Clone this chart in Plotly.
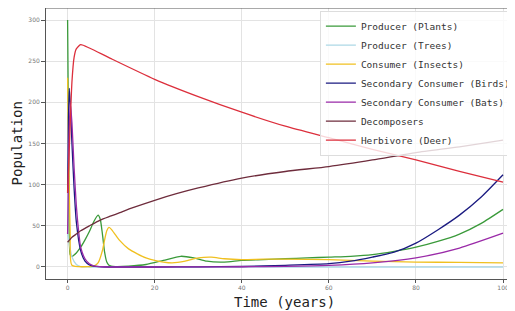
import plotly.graph_objects as go

# ---- data ----
t_plants = [0, 0.3, 0.6, 1, 2, 3, 4, 5, 6, 7, 7.5, 8, 8.5, 9, 9.5, 10, 11, 14, 18, 22, 26, 29, 32, 36, 40, 45, 50, 55, 60, 65, 70, 75, 80, 85, 90, 95, 100]
v_plants = [300, 100, 15, 13, 17, 24, 33, 43, 55, 63, 58, 40, 18, 6, 2, 1, 0.5, 1, 3, 8, 13, 11, 7, 6, 8, 9, 10, 11, 12, 13, 15, 19, 24, 31, 40, 53, 70]

t_trees = [0, 0.5, 1, 2, 3, 5, 20, 40, 60, 80, 100]
v_trees = [40, 25, 12, 3, 0.5, 0, 0, 0, 0, 0, 0]

t_insects = [0, 0.3, 0.6, 1, 5, 6, 7, 8, 8.5, 9, 9.5, 10, 11, 12, 14, 16, 18, 20, 22, 24, 27, 30, 33, 36, 40, 45, 50, 60, 70, 80, 90, 100]
v_insects = [230, 120, 40, 2, 0.5, 1, 5, 20, 33, 44, 48, 46, 39, 32, 22, 16, 11, 8, 6, 5, 7, 11, 12, 10, 9, 9.5, 9.5, 9, 7, 6, 5.5, 5]

t_birds = [0, 0.2, 0.4, 0.7, 1, 1.5, 2, 3, 4, 5, 6, 8, 10, 20, 30, 40, 50, 60, 65, 70, 75, 80, 85, 90, 95, 100]
v_birds = [90, 180, 217, 190, 150, 95, 55, 20, 7, 2.5, 1, 0.2, 0, 0, 0.2, 0.6, 2, 4, 7, 12, 18, 29, 45, 63, 85, 112]

t_bats = [0, 0.3, 0.6, 1, 1.5, 2, 2.5, 3, 4, 5, 6, 8, 10, 20, 30, 40, 50, 60, 70, 80, 90, 100]
v_bats = [40, 150, 200, 175, 120, 75, 45, 24, 10, 4, 1.5, 0.3, 0, 0, 0.1, 0.3, 0.8, 2, 5, 11, 23, 41]

t_decomp = [0, 1, 2, 3, 5, 7.5, 10, 12, 15, 20, 25, 30, 40, 50, 60, 70, 80, 90, 100]
v_decomp = [30, 36, 40, 44, 50, 57, 62, 66, 72, 81, 89, 96, 108, 116, 122, 130, 139, 146, 154]

t_deer = [0, 0.5, 1, 1.5, 2, 3, 5, 10, 20, 30, 40, 50, 60, 70, 80, 90, 100]
v_deer = [90, 160, 225, 255, 265, 270, 266, 253, 228, 207, 188, 171, 157, 143, 130, 116, 103]

x_ticks = [0, 20, 40, 60, 80, 100]
y_ticks = [0, 50, 100, 150, 200, 250, 300]

series = [
    ("Producer (Plants)", t_plants, v_plants, "#3a9a3a"),
    ("Producer (Trees)", t_trees, v_trees, "#add8e6"),
    ("Consumer (Insects)", t_insects, v_insects, "#f0c020"),
    ("Secondary Consumer (Birds)", t_birds, v_birds, "#1a1a80"),
    ("Secondary Consumer (Bats)", t_bats, v_bats, "#9a2aa8"),
    ("Decomposers", t_decomp, v_decomp, "#6e2c3c"),
    ("Herbivore (Deer)", t_deer, v_deer, "#dc2f3c"),
]

fig = go.Figure()
for name, t, v, c in series:
    fig.add_trace(go.Scatter(x=t, y=v, mode="lines", name=name,
                             line=dict(color=c, width=1.3, shape="spline", smoothing=0.6)))

mono = "DejaVu Sans Mono"
# the page body has an 8px margin, so the figure is sized to the visible area
fig.update_layout(
    width=507, height=303,
    margin=dict(l=38, r=0, t=0, b=32, autoexpand=False),
    paper_bgcolor="white", plot_bgcolor="white",
    showlegend=True,
    legend=dict(x=0.584, y=0.99, xanchor="left", yanchor="top",
                bgcolor="rgba(255,255,255,0.8)", bordercolor="#dddddd", borderwidth=1,
                font=dict(family=mono, size=9.5, color="#333333")),
    xaxis=dict(range=[-4.96, 102.75], tickvals=x_ticks, showgrid=True, gridcolor="#e3e3e3",
               gridwidth=1, zeroline=False, showline=True, linecolor="#555555", linewidth=1,
               ticks="outside", ticklen=3, tickcolor="#555555",
               tickfont=dict(family="DejaVu Sans", size=6, color="#777777")),
    yaxis=dict(range=[-14.6, 314.6], tickvals=y_ticks, showgrid=True, gridcolor="#e3e3e3",
               gridwidth=1, zeroline=False, showline=True, linecolor="#555555", linewidth=1,
               ticks="outside", ticklen=4, tickcolor="#555555",
               tickfont=dict(family="DejaVu Sans", size=6, color="#777777")),
    shapes=[dict(type="line", xref="paper", yref="paper", x0=0, x1=1, y0=1, y1=1,
                 line=dict(color="#555555", width=1))],
    annotations=[
        dict(text="Time (years)", xref="paper", yref="paper", x=0.5075, y=-0.085,
             xanchor="center", yanchor="middle", showarrow=False,
             font=dict(family=mono, size=14, color="#222222")),
        dict(text="Population", xref="paper", yref="paper", x=-0.062, y=0.5,
             xanchor="center", yanchor="middle", showarrow=False, textangle=-90,
             font=dict(family=mono, size=14, color="#222222")),
    ],
)

fig.write_html("out.html")
